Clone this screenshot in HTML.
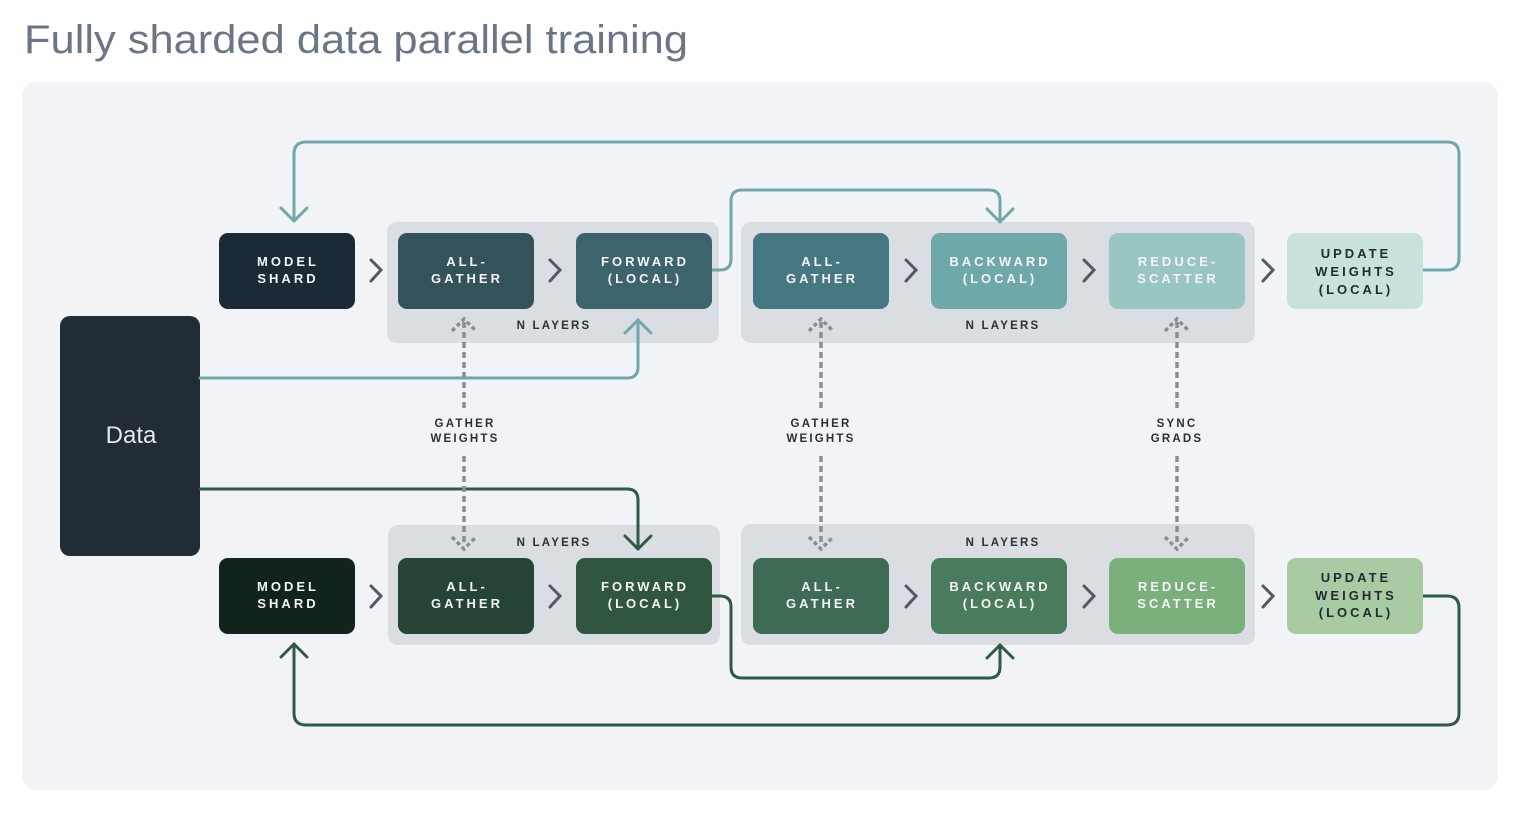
<!DOCTYPE html>
<html><head><meta charset="utf-8"><style>
html,body{margin:0;padding:0;background:#fff;width:1528px;height:824px;overflow:hidden}
svg{display:block}
.t{font-family:"Liberation Sans",sans-serif;font-weight:bold;font-size:13px;letter-spacing:3px;text-anchor:middle}
.s{font-family:"Liberation Sans",sans-serif;font-weight:bold;font-size:11.5px;letter-spacing:2.2px;text-anchor:middle;fill:#2a3038}
</style></head><body>
<svg width="1528" height="824" viewBox="0 0 1528 824" xmlns="http://www.w3.org/2000/svg">
<text x="24" y="53" font-family="Liberation Sans, sans-serif" font-size="40" fill="#6a7585" textLength="664" lengthAdjust="spacingAndGlyphs">Fully sharded data parallel training</text>
<rect x="22" y="82" width="1476" height="708" rx="14" fill="#f1f3f7"/>
<!-- groups -->
<rect x="387" y="222" width="332" height="121" rx="10" fill="#dadde1"/>
<rect x="741" y="222" width="514" height="121" rx="10" fill="#dadde1"/>
<rect x="388" y="525" width="332" height="120" rx="10" fill="#dadde1"/>
<rect x="741" y="524" width="514" height="121" rx="10" fill="#dadde1"/>
<!-- data -->
<rect x="60" y="316" width="140" height="240" rx="10" fill="#222c35"/>
<text x="131" y="443" font-family="Liberation Sans, sans-serif" font-size="24" fill="#e6e8ec" text-anchor="middle">Data</text>
<!-- lines -->
<g fill="none" stroke-width="3" stroke-linecap="round" stroke-linejoin="round">
<path d="M1422 270 H1447 Q1459 270 1459 258 V154 Q1459 142 1447 142 H306 Q294 142 294 154 V221" stroke="#6fa8a8"/>
<path d="M281 208 L294 221 L307 208" stroke="#6fa8a8"/>
<path d="M711 270 H720 Q731 270 731 259 V201 Q731 190 742 190 H989 Q1000 190 1000 201 V222" stroke="#6fa8a8"/>
<path d="M987 209 L1000 222 L1013 209" stroke="#6fa8a8"/>
<path d="M200 378 H627 Q638 378 638 367 V320" stroke="#6fa8a8"/>
<path d="M625 333 L638 320 L651 333" stroke="#6fa8a8"/>
<path d="M200 489 H627 Q638 489 638 500 V549" stroke="#2f5a45"/>
<path d="M625 536 L638 549 L651 536" stroke="#2f5a45"/>
<path d="M711 596 H720 Q731 596 731 607 V667 Q731 678 742 678 H989 Q1000 678 1000 667 V645" stroke="#2f5a45"/>
<path d="M987 658 L1000 645 L1013 658" stroke="#2f5a45"/>
<path d="M1422 596 H1447 Q1459 596 1459 608 V713 Q1459 725 1447 725 H306 Q294 725 294 713 V644" stroke="#2f5a45"/>
<path d="M281 657 L294 644 L307 657" stroke="#2f5a45"/>
</g>
<!-- dashed -->
<g fill="none" stroke="#8a8e92" stroke-width="3.5" stroke-dasharray="6 4">
<path d="M464 322 V408 M464 456 V546"/>
<path d="M821 322 V408 M821 456 V546"/>
<path d="M1177 322 V408 M1177 456 V546"/>
<path d="M452 331 L464 319 L476 331 M452 537 L464 549 L476 537 M809 331 L821 319 L833 331 M809 537 L821 549 L833 537 M1165 331 L1177 319 L1189 331 M1165 537 L1177 549 L1189 537" stroke-dasharray="4 3"/>
</g>
<text class="s" x="465" y="427">GATHER</text><text class="s" x="465" y="442">WEIGHTS</text>
<text class="s" x="821" y="427">GATHER</text><text class="s" x="821" y="442">WEIGHTS</text>
<text class="s" x="1177" y="427">SYNC</text><text class="s" x="1177" y="442">GRADS</text>
<text class="s" x="554" y="329">N LAYERS</text>
<text class="s" x="1003" y="329">N LAYERS</text>
<text class="s" x="554" y="546">N LAYERS</text>
<text class="s" x="1003" y="546">N LAYERS</text>
<!-- chevrons -->
<g fill="none" stroke="#4f5a66" stroke-width="3" stroke-linecap="round">
<path d="M371 260 L381 270 L371 281 M550 260 L560 270 L550 281 M906 260 L916 270 L906 281 M1084 260 L1094 270 L1084 281 M1263 260 L1273 270 L1263 281"/>
<path d="M371 586 L381 596 L371 607 M550 586 L560 596 L550 607 M906 586 L916 596 L906 607 M1084 586 L1094 596 L1084 607 M1263 586 L1273 596 L1263 607"/>
</g>
<!-- top boxes -->
<rect x="219" y="233" width="136" height="76" rx="9" fill="#1c2a36"/>
<rect x="398" y="233" width="136" height="76" rx="9" fill="#34525a"/>
<rect x="576" y="233" width="136" height="76" rx="9" fill="#3d636c"/>
<rect x="753" y="233" width="136" height="76" rx="9" fill="#477780"/>
<rect x="931" y="233" width="136" height="76" rx="9" fill="#6fa8a9"/>
<rect x="1109" y="233" width="136" height="76" rx="9" fill="#9ac6c1"/>
<rect x="1287" y="233" width="136" height="76" rx="9" fill="#c9e1dd"/>
<g class="t" fill="#f2f4f5">
<text x="288" y="266">MODEL</text><text x="288" y="283">SHARD</text>
<text x="467" y="266">ALL-</text><text x="467" y="283">GATHER</text>
<text x="645" y="266">FORWARD</text><text x="645" y="283">(LOCAL)</text>
<text x="822" y="266">ALL-</text><text x="822" y="283">GATHER</text>
<text x="1000" y="266">BACKWARD</text><text x="1000" y="283">(LOCAL)</text>
<text x="1178" y="266">REDUCE-</text><text x="1178" y="283">SCATTER</text>
</g>
<g class="t" fill="#222a33">
<text x="1356" y="258">UPDATE</text><text x="1356" y="276">WEIGHTS</text><text x="1356" y="294">(LOCAL)</text>
</g>
<!-- bottom boxes -->
<rect x="219" y="558" width="136" height="76" rx="9" fill="#12231b"/>
<rect x="398" y="558" width="136" height="76" rx="9" fill="#254436"/>
<rect x="576" y="558" width="136" height="76" rx="9" fill="#30563f"/>
<rect x="753" y="558" width="136" height="76" rx="9" fill="#3d6b53"/>
<rect x="931" y="558" width="136" height="76" rx="9" fill="#4a7b5c"/>
<rect x="1109" y="558" width="136" height="76" rx="9" fill="#7bb07d"/>
<rect x="1287" y="558" width="136" height="76" rx="9" fill="#a9cba3"/>
<g class="t" fill="#f2f4f5">
<text x="288" y="591">MODEL</text><text x="288" y="608">SHARD</text>
<text x="467" y="591">ALL-</text><text x="467" y="608">GATHER</text>
<text x="645" y="591">FORWARD</text><text x="645" y="608">(LOCAL)</text>
<text x="822" y="591">ALL-</text><text x="822" y="608">GATHER</text>
<text x="1000" y="591">BACKWARD</text><text x="1000" y="608">(LOCAL)</text>
<text x="1178" y="591">REDUCE-</text><text x="1178" y="608">SCATTER</text>
</g>
<g class="t" fill="#222a33">
<text x="1356" y="582">UPDATE</text><text x="1356" y="600">WEIGHTS</text><text x="1356" y="617">(LOCAL)</text>
</g>
</svg>
</body></html>
